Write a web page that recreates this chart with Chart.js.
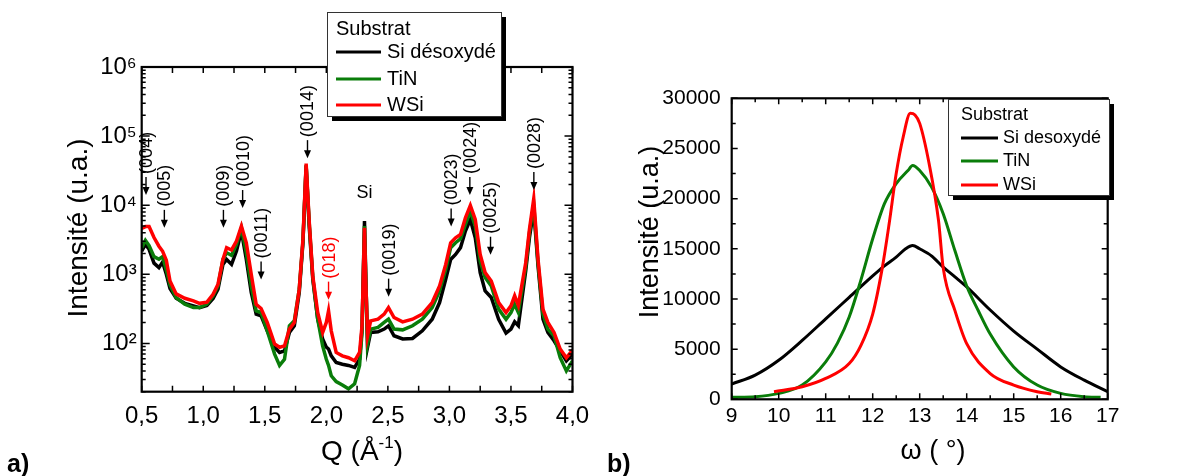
<!DOCTYPE html>
<html>
<head>
<meta charset="utf-8">
<script src="https://cdn.jsdelivr.net/npm/chart.js@4.4.0/dist/chart.umd.min.js"></script>
<style>
  html, body { margin: 0; padding: 0; background: #fff; }
  #wrap { position: relative; width: 1204px; height: 476px; overflow: hidden; }
  canvas { position: absolute; top: 0; }
  #xrd { left: 0; }
  #rock { left: 600px; }
</style>
</head>
<body>
<div id="wrap">
  <canvas id="xrd" width="600" height="476"></canvas>
  <canvas id="rock" width="604" height="476"></canvas>
</div>
<script>
const FONT = 'Arial, "Liberation Sans", sans-serif';

// ---- panel a) : XRD, log scale ----
const seriesNames = ['Si désoxydé', 'TiN', 'WSi'];
const seriesColors = ['#000000', '#0a7d0a', '#ff0000'];

const qValues = [0.50,0.53,0.56,0.60,0.64,0.67,0.70,0.73,0.78,0.85,
  0.92,0.97,1.03,1.08,1.12,1.16,1.19,1.23,1.27,1.31,
  1.35,1.39,1.43,1.47,1.52,1.58,1.62,1.66,1.70,1.74,
  1.78,1.81,1.836,1.86,1.89,1.93,1.97,2.00,2.018,2.04,
  2.08,2.13,2.18,2.23,2.27,2.29,2.31,2.32,2.335,2.36,
  2.42,2.47,2.505,2.55,2.62,2.70,2.78,2.86,2.92,2.97,
  3.01,3.05,3.09,3.13,3.17,3.21,3.25,3.29,3.34,3.40,
  3.46,3.50,3.53,3.56,3.62,3.65,3.685,3.72,3.76,3.80,
  3.85,3.90,3.95,4.00];

const siInt = [2170,2700,2300,1450,1250,1500,1000,620,450,380,
  349,330,355,447,608,1390,1640,1390,2170,4220,
  1640,545,265,251,152,88,74,78,144,180,
  545,2860,37000,5250,847,224,116,88,83,66,
  53,50,48,45,59,161,5880,1060,88,144,
  147,161,180,129,116,118,152,224,390,847,
  1640,1940,2430,4220,6210,3370,1060,575,461,224,
  141,161,205,180,1120,3370,8660,1320,224,144,
  109,78,56,70];

const tinInt = [2430,3100,2600,1800,1650,1800,1150,700,460,369,
  330,330,369,488,680,1640,2050,1880,2710,4710,
  2050,680,296,280,152,70,48,59,180,212,
  608,3020,38000,5880,900,224,92,59,48,34,
  28,25,22,26,48,144,4980,946,98,161,
  170,201,224,161,157,180,224,330,575,1180,
  2430,2860,3270,5250,8190,4980,1550,900,680,313,
  224,280,369,280,1290,3990,10220,1470,265,161,
  129,62,40,56];

const wsiInt = [4600,4900,4900,3400,2550,2150,1600,800,520,450,
  412,380,395,515,720,1640,2430,2250,3020,4980,
  2860,1000,369,320,201,98,88,92,161,201,
  608,3200,40000,6210,946,280,144,201,296,152,
  74,66,62,56,74,180,4710,847,129,212,
  224,265,330,237,205,224,265,390,680,1390,
  2860,3370,3780,6550,9890,6210,1940,1060,800,390,
  280,349,488,355,1470,4460,12330,1640,313,201,
  144,83,62,80];

const qTicks = [0.5, 1.0, 1.5, 2.0, 2.5, 3.0, 3.5, 4.0];
const qMinorTicks = [0.75, 1.25, 1.75, 2.25, 2.75, 3.25, 3.75];
const logDecades = [100, 1000, 10000, 100000, 1000000];
const supDigits = { 2: '\u00b2', 3: '\u00b3', 4: '\u2074', 5: '\u2075', 6: '\u2076' };

// peak labels (Q position, intensity at arrow tip)
const annLabels = ['(004)', '(005)', '(009)', '(0010)', '(0011)', '(0014)', '(018)', '(0019)', '(0023)', '(0024)', '(0025)', '(0028)'];
const annQ = [0.535, 0.684, 1.164, 1.32, 1.47, 1.847, 2.018, 2.506, 3.014, 3.166, 3.334, 3.686];
const annTip = [14100, 4700, 4700, 9100, 840, 48000, 430, 475, 4900, 14100, 1920, 16600];
const annColors = ['#000', '#000', '#000', '#000', '#000', '#000', '#ff0000', '#000', '#000', '#000', '#000', '#000'];
const siPeakLabel = { text: 'Si', q: 2.31, y: 11200 };

// ---- panel b) : rocking curves ----
const rockNames = ['Si desoxydé', 'TiN', 'WSi'];
const omegaSi = [9, 9.5, 10, 10.5, 11, 11.5, 12, 12.25, 12.5, 12.7, 12.85, 13, 13.25, 13.5, 13.75, 14, 14.5, 15, 15.5, 16, 16.5, 17];
const siRock = [1520, 2410, 3890, 5870, 8020, 10160, 12300, 13300, 14170, 15000, 15330, 15000, 14300, 13170, 12200, 11200, 8900, 6800, 5000, 3230, 1910, 760];
const omegaTin = [9, 9.5, 10, 10.5, 11, 11.25, 11.5, 11.75, 12, 12.25, 12.5, 12.75, 12.85, 13, 13.25, 13.5, 13.75, 14, 14.25, 14.5, 15, 15.5, 16, 16.5, 16.85];
const tinRock = [200, 260, 590, 1420, 3730, 5600, 8200, 11900, 16000, 19500, 21500, 22800, 23300, 22800, 21170, 18500, 14800, 11300, 8800, 6500, 3230, 1420, 590, 260, 200];
const omegaWsi = [9.9, 10.5, 11, 11.5, 11.75, 12, 12.2, 12.35, 12.5, 12.65, 12.8, 12.9, 13, 13.2, 13.4, 13.5, 13.75, 14, 14.5, 15, 15.5, 15.8];
const wsiRock = [760, 1250, 2080, 3560, 5380, 8500, 13000, 17500, 22500, 26170, 28500, 28330, 27500, 23500, 17830, 13100, 8840, 5540, 2570, 1420, 760, 530];
const omegaTicks = [9, 10, 11, 12, 13, 14, 15, 16, 17];
const rockTicks = [0, 5000, 10000, 15000, 20000, 25000, 30000];

Chart.defaults.font.family = FONT;
Chart.defaults.color = '#000';

function pts(xs, ys) {
  return xs.map((v, i) => ({ x: v, y: ys[i] }));
}

// frame + inward ticks on the 4 sides
function drawFrame(chart, xt, yt) {
  const { ctx, chartArea: a, scales: { x, y } } = chart;
  ctx.save();
  ctx.strokeStyle = '#000';
  ctx.lineWidth = 1.5;
  ctx.beginPath();
  xt.forEach(t => {
    const p = x.getPixelForValue(t[0]);
    ctx.moveTo(p, a.bottom); ctx.lineTo(p, a.bottom - t[1]);
    ctx.moveTo(p, a.top); ctx.lineTo(p, a.top + t[1]);
  });
  yt.forEach(t => {
    const p = y.getPixelForValue(t[0]);
    ctx.moveTo(a.left, p); ctx.lineTo(a.left + t[1], p);
    ctx.moveTo(a.right, p); ctx.lineTo(a.right - t[1], p);
  });
  ctx.stroke();
  ctx.lineWidth = 2.2;
  ctx.strokeRect(a.left, a.top, a.right - a.left, a.bottom - a.top);
  ctx.restore();
}

function drawLegend(ctx, L, names) {
  ctx.save();
  ctx.fillStyle = '#000';
  ctx.fillRect(L.x + 5, L.y + 5, L.w, L.h);
  ctx.fillStyle = '#fff';
  ctx.fillRect(L.x, L.y, L.w, L.h);
  ctx.strokeStyle = '#333';
  ctx.lineWidth = 1;
  ctx.strokeRect(L.x + 0.5, L.y + 0.5, L.w, L.h);
  ctx.fillStyle = '#000';
  ctx.textAlign = 'left';
  ctx.textBaseline = 'middle';
  ctx.font = L.font;
  ctx.fillText('Substrat', L.x0, L.titleY);
  names.forEach((n, i) => {
    ctx.strokeStyle = seriesColors[i];
    ctx.lineWidth = 3;
    ctx.beginPath();
    ctx.moveTo(L.x0, L.rows[i]);
    ctx.lineTo(L.x1, L.rows[i]);
    ctx.stroke();
    ctx.fillStyle = '#000';
    ctx.fillText(n, L.tx, L.rows[i]);
  });
  ctx.restore();
}

function rotText(ctx, text, cx, cy, font) {
  ctx.save();
  ctx.translate(cx, cy);
  ctx.rotate(-Math.PI / 2);
  ctx.font = font;
  ctx.fillStyle = '#000';
  ctx.textAlign = 'center';
  ctx.textBaseline = 'middle';
  ctx.fillText(text, 0, 0);
  ctx.restore();
}

const xrdPlugin = {
  id: 'xrdDecor',
  afterDatasetsDraw(chart) {
    const { ctx, scales: { x, y } } = chart;
    ctx.save();
    annLabels.forEach((lab, i) => {
      const px = x.getPixelForValue(annQ[i]);
      const tip = y.getPixelForValue(annTip[i]);
      ctx.strokeStyle = annColors[i];
      ctx.fillStyle = annColors[i];
      ctx.lineWidth = 1.4;
      ctx.beginPath();
      ctx.moveTo(px, tip - 18);
      ctx.lineTo(px, tip - 6);
      ctx.stroke();
      ctx.beginPath();
      ctx.moveTo(px - 3.5, tip - 8);
      ctx.lineTo(px + 3.5, tip - 8);
      ctx.lineTo(px, tip);
      ctx.closePath();
      ctx.fill();
      ctx.save();
      ctx.translate(px + 1, tip - 21);
      ctx.rotate(-Math.PI / 2);
      ctx.font = '18px ' + FONT;
      ctx.textAlign = 'left';
      ctx.textBaseline = 'middle';
      ctx.fillText(lab, 0, 0);
      ctx.restore();
    });
    ctx.fillStyle = '#000';
    ctx.font = '18px ' + FONT;
    ctx.textAlign = 'center';
    ctx.textBaseline = 'bottom';
    ctx.fillText(siPeakLabel.text, x.getPixelForValue(siPeakLabel.q), y.getPixelForValue(siPeakLabel.y));
    ctx.restore();
  },
  afterDraw(chart) {
    const { ctx } = chart;
    const xt = qTicks.concat(qMinorTicks).map(v => [v, 6]);
    const yt = [];
    for (let d = 1; d <= 5; d++) {
      for (let k = 1; k <= 9; k++) {
        const v = k * Math.pow(10, d);
        if (v >= 20 && v <= 1e6) yt.push([v, k === 1 ? 8 : 4]);
      }
    }
    yt.push([1e6, 8]);
    drawFrame(chart, xt, yt);

    rotText(ctx, 'Intensité (u.a.)', 79, 228, '28px ' + FONT);

    // Q (Å^-1)
    ctx.save();
    ctx.fillStyle = '#000';
    ctx.textBaseline = 'alphabetic';
    ctx.textAlign = 'left';
    const big = '28px ' + FONT, small = '17px ' + FONT;
    ctx.font = big;
    const w1 = ctx.measureText('Q (Å').width, w3 = ctx.measureText(')').width;
    ctx.font = small;
    const w2 = ctx.measureText('-1').width;
    let sx = 362 - (w1 + w2 + w3) / 2;
    const base = 460;
    ctx.font = big; ctx.fillText('Q (Å', sx, base);
    ctx.font = small; ctx.fillText('-1', sx + w1, base - 12);
    ctx.font = big; ctx.fillText(')', sx + w1 + w2, base);

    ctx.font = 'bold 25px ' + FONT;
    ctx.fillText('a)', 7, 472);
    ctx.restore();

    drawLegend(ctx, { x: 327, y: 12, w: 174, h: 104, x0: 336, x1: 381, tx: 387,
      titleY: 29, rows: [52, 79, 105], font: '20px ' + FONT }, seriesNames);
  }
};

const rockPlugin = {
  id: 'rockDecor',
  afterDraw(chart) {
    const { ctx } = chart;
    const xt = [];
    for (let v = 9; v <= 17; v += 0.5) xt.push([v, Number.isInteger(v) ? 6 : 4]);
    const yt = [];
    for (let v = 0; v <= 30000; v += 2500) yt.push([v, v % 5000 === 0 ? 6 : 4]);
    drawFrame(chart, xt, yt);

    rotText(ctx, 'Intensité (u.a.)', 51, 232, '27px ' + FONT);
    ctx.save();
    ctx.fillStyle = '#000';
    ctx.font = '27px ' + FONT;
    ctx.textAlign = 'center';
    ctx.textBaseline = 'middle';
    ctx.fillText('ω ( °)', 333, 452);
    ctx.font = 'bold 25px ' + FONT;
    ctx.textAlign = 'left';
    ctx.textBaseline = 'alphabetic';
    ctx.fillText('b)', 7, 472);
    ctx.restore();

    drawLegend(ctx, { x: 348, y: 99, w: 161, h: 96, x0: 361, x1: 398, tx: 403,
      titleY: 115, rows: [138, 161, 185], font: '18px ' + FONT }, rockNames);
  }
};

function lineSet(label, data, color, order, width, smooth) {
  const ds = { label, data, borderColor: color, backgroundColor: color, borderWidth: width,
    pointRadius: 0, tension: 0, fill: false, order };
  if (smooth) ds.cubicInterpolationMode = 'monotone';
  return ds;
}

new Chart(document.getElementById('xrd'), {
  type: 'line',
  data: {
    datasets: [
      lineSet(seriesNames[0], pts(qValues, siInt), seriesColors[0], 3, 3.5, false),
      lineSet(seriesNames[1], pts(qValues, tinInt), seriesColors[1], 2, 3.5, false),
      lineSet(seriesNames[2], pts(qValues, wsiInt), seriesColors[2], 1, 3.5, false)
    ]
  },
  options: {
    responsive: false,
    animation: false,
    layout: { padding: { left: 0, right: 27.5, top: 67, bottom: 0 } },
    plugins: { legend: { display: false }, tooltip: { enabled: false } },
    scales: {
      x: {
        type: 'linear', min: 0.5, max: 4.0,
        grid: { display: false, drawTicks: false }, border: { display: false },
        afterBuildTicks: s => { s.ticks = qTicks.map(v => ({ value: v })); },
        ticks: { font: { size: 24 }, padding: 10, maxRotation: 0,
          callback: v => v.toFixed(1).replace('.', ',') },
        afterFit: s => { s.height = 84.3; }
      },
      y: {
        type: 'logarithmic', min: 20, max: 1e6,
        grid: { display: false, drawTicks: false }, border: { display: false },
        afterBuildTicks: s => { s.ticks = logDecades.map(v => ({ value: v })); },
        ticks: { font: { size: 24 }, padding: 5,
          callback: v => '10' + supDigits[Math.round(Math.log10(v))] },
        afterFit: s => { s.width = 141.7; }
      }
    }
  },
  plugins: [xrdPlugin]
});

new Chart(document.getElementById('rock'), {
  type: 'line',
  data: {
    datasets: [
      lineSet(rockNames[0], pts(omegaSi, siRock), seriesColors[0], 3, 3, true),
      lineSet(rockNames[1], pts(omegaTin, tinRock), seriesColors[1], 2, 3, true),
      lineSet(rockNames[2], pts(omegaWsi, wsiRock), seriesColors[2], 1, 3, true)
    ]
  },
  options: {
    responsive: false,
    animation: false,
    layout: { padding: { left: 0, right: 96.3, top: 98.3, bottom: 0 } },
    plugins: { legend: { display: false }, tooltip: { enabled: false } },
    scales: {
      x: {
        type: 'linear', min: 9, max: 17,
        grid: { display: false, drawTicks: false }, border: { display: false },
        afterBuildTicks: s => { s.ticks = omegaTicks.map(v => ({ value: v })); },
        ticks: { font: { size: 21 }, padding: 4, maxRotation: 0, callback: v => String(v) },
        afterFit: s => { s.height = 76.7; }
      },
      y: {
        type: 'linear', min: 0, max: 30000,
        grid: { display: false, drawTicks: false }, border: { display: false },
        afterBuildTicks: s => { s.ticks = rockTicks.map(v => ({ value: v })); },
        ticks: { font: { size: 21 }, padding: 11, callback: v => String(v) },
        afterFit: s => { s.width = 131.7; }
      }
    }
  },
  plugins: [rockPlugin]
});
</script>
</body>
</html>
